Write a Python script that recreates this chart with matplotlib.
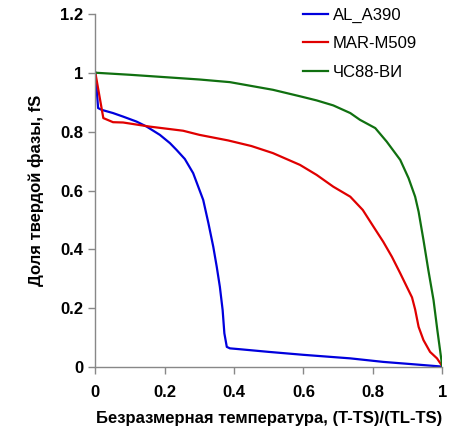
import numpy as np
import matplotlib
matplotlib.use("Agg")
import matplotlib.pyplot as plt

plt.rcParams["font.family"] = ["Liberation Sans", "DejaVu Sans"]

# Solid fraction vs. dimensionless temperature for three alloys
alA390X = [0.0, 0.008, 0.018, 0.051, 0.08, 0.119, 0.148, 0.186, 0.215, 0.234, 0.258, 0.282,
           0.311, 0.326, 0.34, 0.35, 0.359, 0.367, 0.372, 0.379, 0.388, 0.417,
           0.5, 0.6, 0.735, 0.83, 0.927, 1.0]
alA390Y = [1.0, 0.88, 0.874, 0.863, 0.851, 0.834, 0.817, 0.789, 0.761, 0.738, 0.707, 0.659,
           0.568, 0.489, 0.409, 0.341, 0.273, 0.194, 0.115, 0.069, 0.064, 0.061,
           0.052, 0.042, 0.030, 0.018, 0.009, 0.002]

marM509X = [0.0, 0.023, 0.051, 0.08, 0.157, 0.253, 0.30, 0.383, 0.45, 0.512, 0.59, 0.638, 0.686,
            0.735, 0.771, 0.802, 0.83, 0.855, 0.879, 0.898, 0.913, 0.922, 0.932, 0.946,
            0.965, 0.985, 1.0]
marM509Y = [1.0, 0.846, 0.832, 0.831, 0.817, 0.803, 0.789, 0.77, 0.751, 0.727, 0.687, 0.653, 0.613,
            0.579, 0.534, 0.477, 0.426, 0.375, 0.319, 0.273, 0.237, 0.196, 0.137, 0.092,
            0.052, 0.030, 0.004]

chs88X = [0.0, 0.1, 0.2, 0.3, 0.388, 0.512, 0.59, 0.638, 0.686, 0.735, 0.763, 0.807, 0.84,
          0.879, 0.903, 0.922, 0.932, 0.946, 0.96, 0.975, 0.986, 1.0]
chs88Y = [1.0, 0.993, 0.985, 0.977, 0.968, 0.942, 0.92, 0.906, 0.889, 0.863, 0.84, 0.812, 0.766,
          0.704, 0.642, 0.579, 0.528, 0.432, 0.33, 0.228, 0.126, 0.004]

ticks = [0, 0.2, 0.4, 0.6, 0.8, 1]
yTicks = [0, 0.2, 0.4, 0.6, 0.8, 1, 1.2]

fig = plt.figure(figsize=(4.54, 4.32), dpi=100)
ax = fig.add_axes([0.21, 0.150, 0.764, 0.818])

ax.plot(alA390X, alA390Y, color="#0000dd", linewidth=1.6, label="AL_A390")
ax.plot(marM509X, marM509Y, color="#e00000", linewidth=1.6, label="MAR-M509")
ax.plot(chs88X, chs88Y, color="#107010", linewidth=1.6, label="ЧС88-ВИ")

ax.set_xlim(0, 1)
ax.set_ylim(0, 1.2)
ax.set_xticks(ticks)
ax.set_yticks(yTicks)
ax.set_xticklabels([f"{t:g}" for t in ticks], fontweight="bold", fontsize=12)
ax.set_yticklabels([f"{t:g}" for t in yTicks], fontweight="bold", fontsize=12)

for side in ["top", "right"]:
    ax.spines[side].set_visible(False)
for side in ["left", "bottom"]:
    ax.spines[side].set_color("#888888")
    ax.spines[side].set_linewidth(1.0)
ax.tick_params(colors="#888888", labelcolor="black", direction="out", length=5, width=1.0)
ax.tick_params(axis="x", pad=8)

ax.set_xlabel("Безразмерная температура, (T-TS)/(TL-TS)", fontweight="bold", fontsize=12, labelpad=8)
ax.set_ylabel("Доля твердой фазы, fS", fontweight="bold", fontsize=12, labelpad=12)

ax.legend(loc="upper left", bbox_to_anchor=(0.599, 1.017), frameon=False, fontsize=12,
          borderpad=0, borderaxespad=0, handlelength=1.5, handletextpad=0.3, labelspacing=0.8)

fig.savefig("out.png", dpi=100)
